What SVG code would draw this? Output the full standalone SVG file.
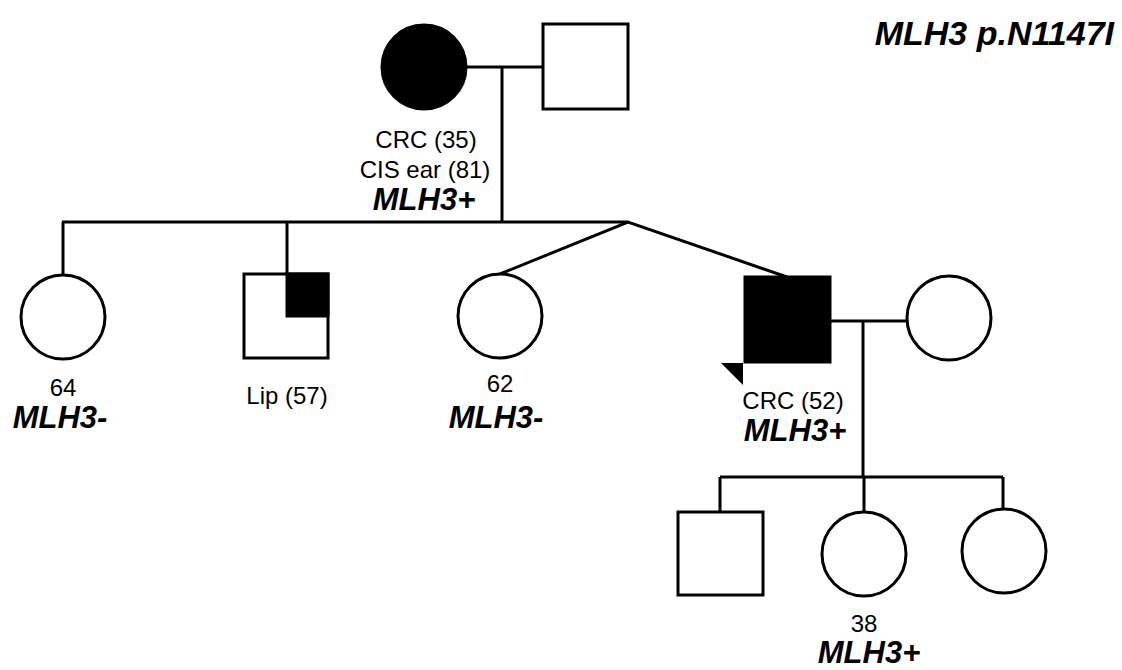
<svg xmlns="http://www.w3.org/2000/svg" width="1122" height="670" viewBox="0 0 1122 670">
<style>
.ln{stroke:#000;stroke-width:3;fill:none}
.sh{stroke:#000;stroke-width:3;fill:#fff}
.af{stroke:#000;stroke-width:3;fill:#000}
.t{font-family:"Liberation Sans",Arial,sans-serif;font-size:24px;fill:#000;text-anchor:middle}
.b{font-family:"Liberation Sans",Arial,sans-serif;font-size:31px;font-weight:bold;font-style:italic;fill:#000;text-anchor:middle}
</style>
<rect width="1122" height="670" fill="#fff"/>
<g id="connectors">
<line class="ln" x1="467" y1="67" x2="543" y2="67"/>
<line class="ln" x1="502" y1="67" x2="502" y2="222"/>
<line class="ln" x1="62" y1="222" x2="628" y2="222"/>
<line class="ln" x1="63" y1="222" x2="63" y2="275"/>
<line class="ln" x1="287" y1="222" x2="287" y2="274"/>
<polyline class="ln" points="500,274 628,222 787,277"/>
<line class="ln" x1="830" y1="321" x2="907" y2="321"/>
<line class="ln" x1="863" y1="321" x2="863" y2="477"/>
<line class="ln" x1="720" y1="477" x2="1003" y2="477"/>
<line class="ln" x1="720" y1="477" x2="720" y2="512"/>
<line class="ln" x1="864" y1="477" x2="864" y2="512"/>
<line class="ln" x1="1003" y1="477" x2="1003" y2="509"/>
</g>
<text class="b" x="1114" y="45" style="text-anchor:end;font-size:34px">MLH3 p.N1147I</text>
<g id="I1">
<circle class="af" cx="424" cy="67" r="42"/>
<text class="t" x="426" y="148">CRC (35)</text>
<text class="t" x="425" y="178">CIS ear (81)</text>
<text class="b" x="424" y="210">MLH3+</text>
</g>
<g id="I2">
<rect class="sh" x="543" y="24" width="85" height="85"/>
</g>
<g id="II1">
<circle class="sh" cx="63" cy="317" r="42"/>
<text class="t" x="63" y="396">64</text>
<text class="b" x="60" y="428">MLH3-</text>
</g>
<g id="II2">
<rect class="sh" x="244" y="274" width="84" height="84"/>
<rect class="af" x="287" y="274" width="41" height="42"/>
<text class="t" x="287" y="404">Lip (57)</text>
</g>
<g id="II3">
<circle class="sh" cx="500" cy="316" r="42"/>
<text class="t" x="500" y="392">62</text>
<text class="b" x="496" y="428">MLH3-</text>
</g>
<g id="II4">
<rect class="af" x="745" y="277" width="85" height="85"/>
<polygon points="721,363 743,363 743,385" fill="#000"/>
<text class="t" x="793" y="409">CRC (52)</text>
<text class="b" x="795" y="441">MLH3+</text>
</g>
<g id="II5">
<circle class="sh" cx="949" cy="318" r="42"/>
</g>
<g id="III1">
<rect class="sh" x="678" y="512" width="85" height="83"/>
</g>
<g id="III2">
<circle class="sh" cx="864" cy="554" r="42"/>
<text class="t" x="864" y="632">38</text>
<text class="b" x="869" y="663">MLH3+</text>
</g>
<g id="III3">
<circle class="sh" cx="1004" cy="551" r="42"/>
</g>
</svg>
